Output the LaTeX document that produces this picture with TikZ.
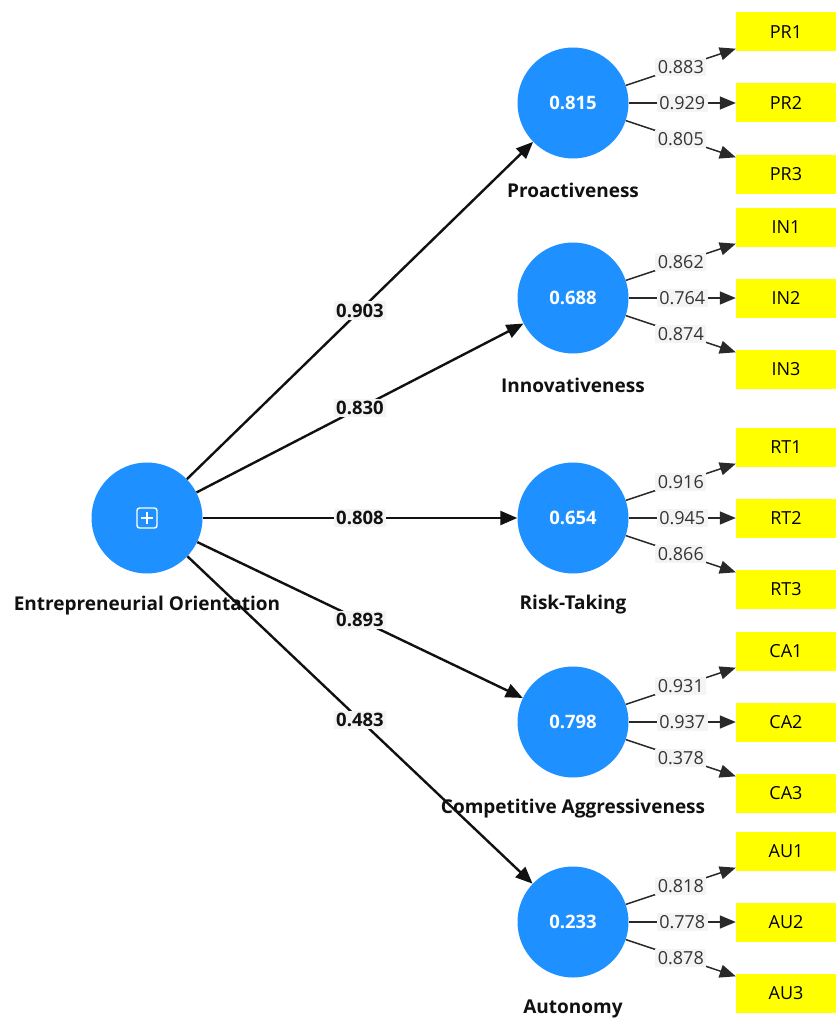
\documentclass[tikz,border=0pt]{standalone}
\usepackage{fontspec}
\setmainfont{Open Sans}
\usetikzlibrary{positioning,arrows.meta,calc}
\definecolor{lvblue}  {HTML}{1E90FF}
\definecolor{mvyellow}{HTML}{FFFF00}
\definecolor{tagfill} {HTML}{F4F4F4}
\definecolor{ink}     {HTML}{111111}
\tikzset{
  % --- nodes
  lv/.style     = {circle, fill=lvblue, minimum size=111pt, inner sep=0pt,
                   text=white, font=\fontsize{18.5}{22}\selectfont\bfseries},
  mv/.style     = {rectangle, fill=mvyellow, minimum width=100pt, minimum height=39pt,
                   inner sep=0pt, font=\fontsize{18}{21}\selectfont},
  lvname/.style = {font=\fontsize{19}{22}\selectfont\bfseries, text=ink},
  % --- edges
  pathe/.style  = {-{Triangle[length=17pt,width=14pt]}, line width=2.4pt, draw=ink},
  loade/.style  = {-{Triangle[length=16pt,width=13pt]}, line width=1.5pt, draw=ink!90},
  pcoef/.style  = {fill=tagfill, inner sep=2.5pt, text=ink,
                   font=\fontsize{18.5}{22}\selectfont\bfseries},
  lcoef/.style  = {fill=tagfill, inner sep=2.5pt, text=ink!85,
                   font=\fontsize{18}{21}\selectfont},
}
\begin{document}
\begin{tikzpicture}[x=1pt,y=-1pt]
  \useasboundingbox (0,0) rectangle (835,1022);
  % exogenous construct
  \node[lv] (eo) at (147,518) {};
  \node[rectangle, draw=white, rounded corners=2.5pt, line width=1.4pt,
        minimum size=20pt, inner sep=0pt] (eoicon) at (eo.center) {};
  \draw[white, line width=1.4pt] ($(eoicon.center)+(-6,0)$) -- ($(eoicon.center)+(6,0)$);
  \draw[white, line width=1.4pt] ($(eoicon.center)+(0,-6)$) -- ($(eoicon.center)+(0,6)$);
  \node[lvname] (eo-name) at (147,606) {Entrepreneurial Orientation};
  % five first-order constructs with three indicators each
  \foreach \n/\y/\lab/\rsq/\pc/\ind/\la/\lb/\lc in {
    pr/103/Proactiveness/0.815/0.903/PR/0.883/0.929/0.805,
    in/298/Innovativeness/0.688/0.830/IN/0.862/0.764/0.874,
    rt/518/Risk-Taking/0.654/0.808/RT/0.916/0.945/0.866,
    ca/722/Competitive Aggressiveness/0.798/0.893/CA/0.931/0.937/0.378,
    au/922/Autonomy/0.233/0.483/AU/0.818/0.778/0.878}
  {
    \node[lv] (\n) at (573,\y) {\rsq};
    \node[lvname] (\n-name) at (573,\y+87) {\lab};
    \draw[pathe] (eo) -- node[pcoef] {\pc} (\n);
    \foreach \k/\dy/\l in {1/-71/\la, 2/0/\lb, 3/71/\lc} {
      \node[mv] (\n\k) at (786,\y+\dy) {\ind\k};
      \draw[loade] (\n) -- node[lcoef] {\l} (\n\k);
    }
  }
\end{tikzpicture}
\end{document}
